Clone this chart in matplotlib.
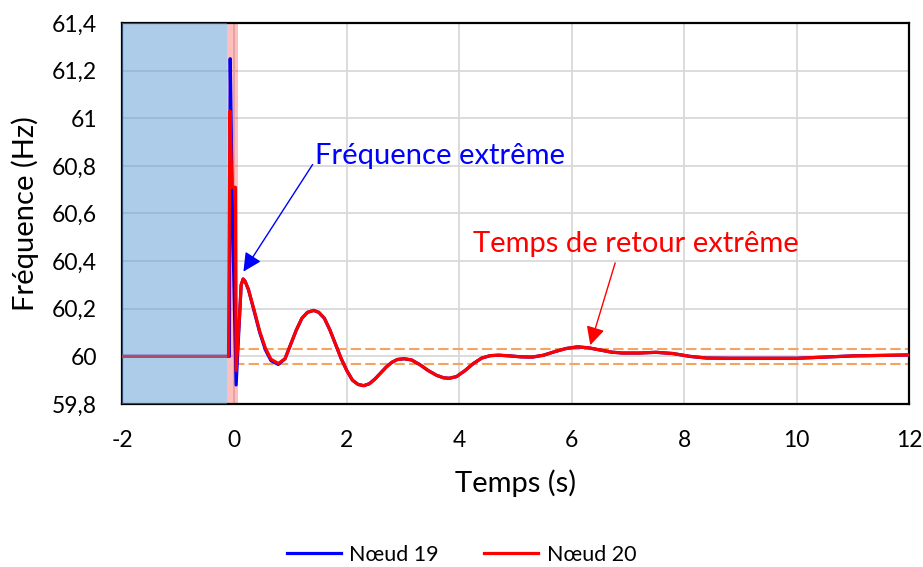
import numpy as np
import matplotlib.pyplot as plt

plt.switch_backend('agg')
plt.rcParams['font.family'] = ['Lato', 'DejaVu Sans']

# data
t19_head = [-2, -0.09, -0.075, -0.035, 0.03, 0.09, 0.12, 0.155, 0.19, 0.25, 0.35, 0.45, 0.55, 0.65, 0.78]
f19_head = [60.0, 60.0, 61.25, 60.59, 59.88, 60.16, 60.30, 60.325, 60.315, 60.28, 60.19, 60.10, 60.028, 59.982, 59.966]

t20_head = [-2, -0.105, -0.08, -0.045, 0.018, 0.03, 0.09, 0.12, 0.155, 0.19, 0.25, 0.35, 0.45, 0.55, 0.65, 0.78]
f20_head = [60.0, 60.0, 61.03, 60.71, 60.71, 59.94, 60.17, 60.30, 60.325, 60.315, 60.28, 60.195, 60.105, 60.035, 59.988, 59.97]

t_tail = [0.9, 1.0, 1.1, 1.2, 1.3, 1.41, 1.5, 1.6, 1.7, 1.8, 1.9, 2.0, 2.1, 2.2, 2.3, 2.4, 2.5,
          2.6, 2.7, 2.8, 2.9, 3.02, 3.15, 3.3, 3.45, 3.6, 3.72, 3.82, 3.95, 4.1, 4.25, 4.4, 4.55,
          4.7, 4.9, 5.1, 5.3, 5.5, 5.7, 5.9, 6.1, 6.3, 6.5, 6.7, 6.9, 7.2, 7.5, 7.8, 8.1, 8.4,
          8.8, 9.5, 10.0, 10.5, 11.0, 11.5, 12.0]
f_tail = [59.99, 60.05, 60.11, 60.16, 60.185, 60.193, 60.185, 60.16, 60.11, 60.05, 59.99, 59.94,
          59.90, 59.882, 59.877, 59.885, 59.905, 59.93, 59.955, 59.975, 59.987, 59.99, 59.985,
          59.965, 59.94, 59.92, 59.91, 59.908, 59.915, 59.94, 59.97, 59.993, 60.003, 60.005,
          60.002, 59.998, 59.997, 60.005, 60.02, 60.033, 60.04, 60.036, 60.027, 60.018, 60.014,
          60.014, 60.017, 60.012, 60.0, 59.993, 59.992, 59.992, 59.992, 59.997, 60.002, 60.004,
          60.006]

band_limits = [59.967, 60.033]
yticks = [59.8, 60.0, 60.2, 60.4, 60.6, 60.8, 61.0, 61.2, 61.4]
ytick_labels = ['59,8', '60', '60,2', '60,4', '60,6', '60,8', '61', '61,2', '61,4']
xticks = [-2, 0, 2, 4, 6, 8, 10, 12]

t19 = t19_head + t_tail
f19 = f19_head + f_tail
t20 = t20_head + t_tail
f20 = f20_head + f_tail

fig = plt.figure(figsize=(9.23, 5.67), dpi=100)
ax = fig.add_axes([122 / 923, 1 - 404 / 567, 787 / 923, 381 / 567])

ax.plot(t19, f19, color='#0000ff', lw=2.3, zorder=3, label='Nœud 19')
ax.plot(t20, f20, color='#ff0000', lw=2.3, zorder=4, label='Nœud 20')

# shaded zones
ax.axvspan(-2, -0.125, color='#5b9bd5', alpha=0.5, lw=0, zorder=5)
ax.axvspan(-0.125, 0.07, color='#ff0000', alpha=0.25, lw=0, zorder=1)

# +/- band
ax.hlines(band_limits, 0, 12, colors='#f4a460', linestyles=(0, (5, 2)), lw=1.5, zorder=2)

ax.annotate('Fréquence extrême', xy=(0.16, 60.356), xytext=(1.44, 60.84),
            color='#0000ff', fontsize=21, ha='left', va='center', zorder=6,
            arrowprops=dict(arrowstyle='-|>', color='#0000ff', lw=1, mutation_scale=28,
                            relpos=(0, 0.35), shrinkA=0, shrinkB=0))
ax.annotate('Temps de retour extrême', xy=(6.33, 60.047), xytext=(7.15, 60.47),
            color='#ff0000', fontsize=21, ha='center', va='center', zorder=6,
            arrowprops=dict(arrowstyle='-|>', color='#ff0000', lw=1, mutation_scale=28,
                            relpos=(0.44, 0), shrinkA=2, shrinkB=0))

ax.set_xlim(-2, 12)
ax.set_ylim(59.8, 61.4)
ax.set_xticks(xticks)
ax.set_xticklabels([str(v) for v in xticks])
ax.set_yticks(yticks)
ax.set_yticklabels(ytick_labels)
ax.tick_params(length=0, labelsize=16.5)
ax.tick_params(axis='y', pad=18)
ax.tick_params(axis='x', pad=19)
ax.grid(True, color='#d9d9d9', lw=1.3, zorder=0)
ax.set_axisbelow(True)
for s in ax.spines.values():
    s.set_color('black')
    s.set_linewidth(1.6)

ax.set_xlabel('Temps (s)', fontsize=21, va='center')
ax.xaxis.set_label_coords(0.5, -0.207)
ax.set_ylabel('Fréquence (Hz)', fontsize=21, va='center')
ax.yaxis.set_label_coords(-0.123, 0.5)

fig.legend(loc='center', bbox_to_anchor=(0.5, 1 - 555 / 567), ncol=2, frameon=False,
           fontsize=15.5, handlelength=2.5, handletextpad=0.4, columnspacing=2.1)

fig.savefig('out.png', dpi=100)
